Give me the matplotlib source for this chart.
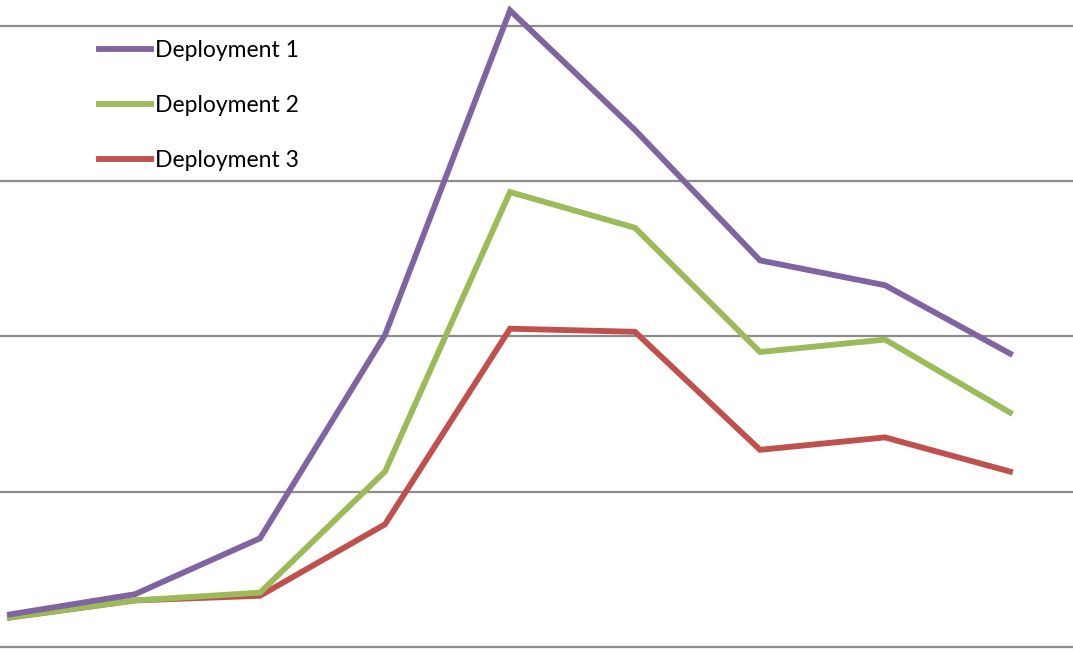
import matplotlib
matplotlib.use("Agg")
import matplotlib.pyplot as plt

# Data (units = gridline steps)
x_pos = list(range(9))
deploy1 = [0.21, 0.34, 0.70, 2.01, 4.10, 3.33, 2.49, 2.33, 1.89]
deploy2 = [0.19, 0.30, 0.35, 1.13, 2.93, 2.70, 1.90, 1.98, 1.51]
deploy3 = [0.19, 0.30, 0.33, 0.79, 2.05, 2.03, 1.27, 1.35, 1.13]
labels = ["Deployment 1", "Deployment 2", "Deployment 3"]
colors = ["#8064A2", "#9BBB59", "#C0504D"]
grid_vals = [0, 1, 2, 3, 4]

plt.rcParams['font.family'] = ['Lato', 'DejaVu Sans']

fig = plt.figure(figsize=(10.73, 6.53), dpi=100)
ax = fig.add_axes([0, 0, 1, 1])

for g in grid_vals:
    ax.axhline(g, color="#8C8C8C", linewidth=1.6, zorder=1)

series = [deploy1, deploy2, deploy3]
lines = []
# draw red first, purple on top
for i in [2, 1, 0]:
    ln, = ax.plot(x_pos, series[i], color=colors[i], linewidth=4.2,
                  solid_joinstyle='miter', zorder=3 + (2 - i), label=labels[i])
    lines.append((i, ln))
lines.sort()

fs = 16.5
leg = ax.legend([l for _, l in lines], labels, loc="upper left",
                bbox_to_anchor=(0.073, 0.970), frameon=False, fontsize=fs,
                handlelength=52 / (fs * 1.389), handletextpad=0.17,
                labelspacing=1.47)

ax.set_xlim(-0.08, 8.504)
ax.set_ylim(-0.0386, 4.167)
ax.axis("off")

plt.savefig("out.png", dpi=100)
plt.close()
